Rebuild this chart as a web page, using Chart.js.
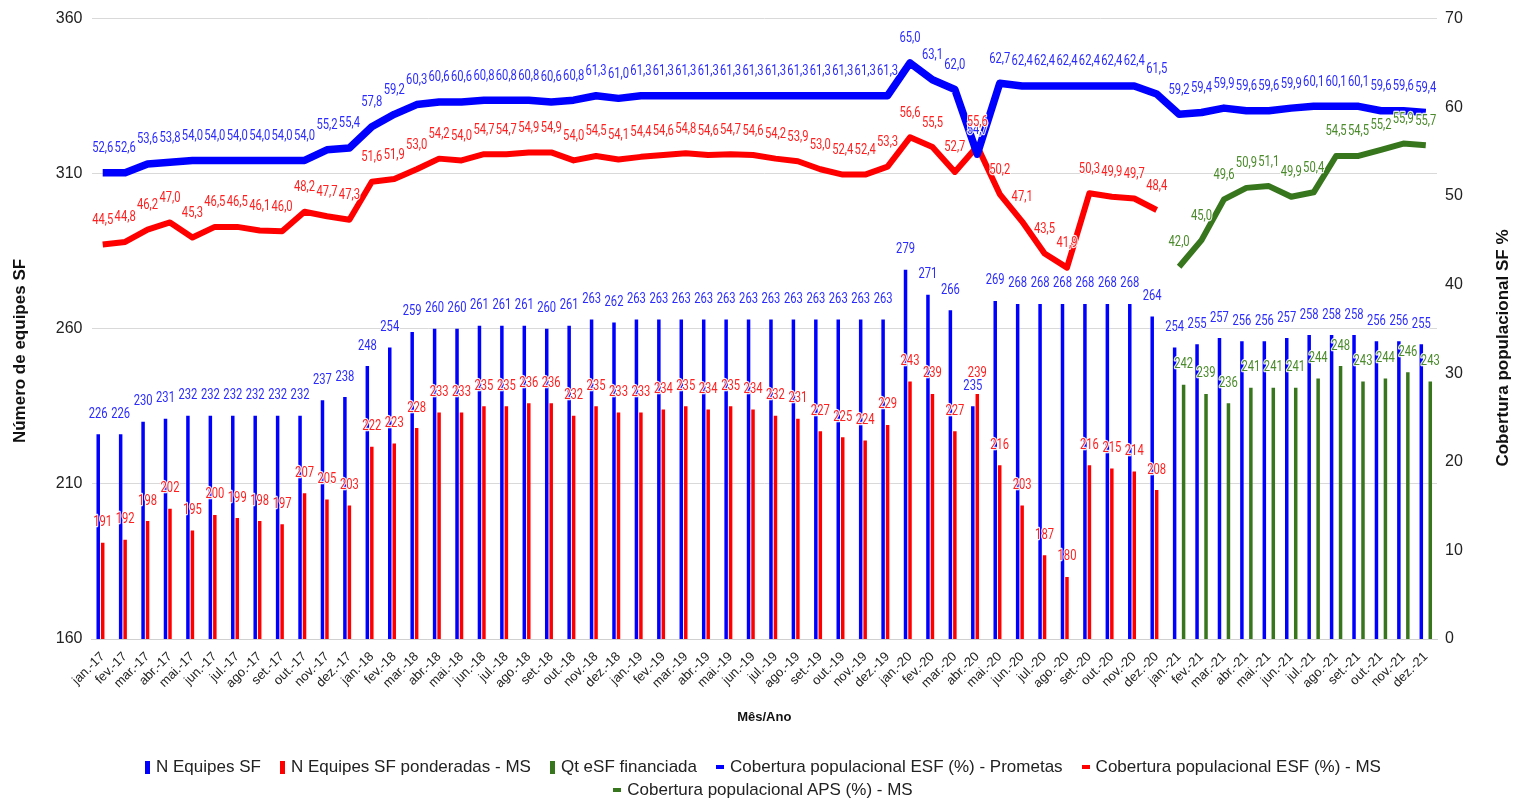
<!DOCTYPE html>
<html lang="pt-BR">
<head>
    <meta charset="UTF-8">
    <title>Equipes SF e cobertura populacional</title>
    <style>
        body {
            margin: 0;
            background: #ffffff;
        }

        .wrap {
            position: relative;
            width: 1517px;
            height: 801px;
        }

        #legend {
            position: absolute;
            top: 757px;
            left: 78px;
            width: 1370px;
            display: flex;
            flex-wrap: wrap;
            justify-content: center;
            column-gap: 19px;
            row-gap: 3px;
            font-family: 'Liberation Sans', Arial, sans-serif;
            font-size: 17px;
            line-height: 20px;
            color: #222;
        }

        .item {
            display: flex;
            align-items: center;
            white-space: nowrap;
        }

        .mark {
            display: inline-block;
            margin-right: 6px;
        }
    </style>
    <script src="https://cdn.jsdelivr.net/npm/chart.js"></script>
</head>

<body>
    <div class="wrap">
        <canvas id="chart" width="1517" height="801"></canvas>
        <div id="legend"></div>
    </div>
    <script>
        const meses = [
            'jan.-17', 'fev.-17', 'mar.-17', 'abr.-17', 'mai.-17', 'jun.-17', 'jul.-17', 'ago.-17', 'set.-17', 'out.-17', 'nov.-17', 'dez.-17',
            'jan.-18', 'fev.-18', 'mar.-18', 'abr.-18', 'mai.-18', 'jun.-18', 'jul.-18', 'ago.-18', 'set.-18', 'out.-18', 'nov.-18', 'dez.-18',
            'jan.-19', 'fev.-19', 'mar.-19', 'abr.-19', 'mai.-19', 'jun.-19', 'jul.-19', 'ago.-19', 'set.-19', 'out.-19', 'nov.-19', 'dez.-19',
            'jan.-20', 'fev.-20', 'mar.-20', 'abr.-20', 'mai.-20', 'jun.-20', 'jul.-20', 'ago.-20', 'set.-20', 'out.-20', 'nov.-20', 'dez.-20',
            'jan.-21', 'fev.-21', 'mar.-21', 'abr.-21', 'mai.-21', 'jun.-21', 'jul.-21', 'ago.-21', 'set.-21', 'out.-21', 'nov.-21', 'dez.-21'
        ];

        // N Equipes SF
        const equipesSF = [
            226, 226, 230, 231, 232, 232, 232, 232, 232, 232, 237, 238,
            248, 254, 259, 260, 260, 261, 261, 261, 260, 261, 263, 262,
            263, 263, 263, 263, 263, 263, 263, 263, 263, 263, 263, 263,
            279, 271, 266, 235, 269, 268, 268, 268, 268, 268, 268, 264,
            254, 255, 257, 256, 256, 257, 258, 258, 258, 256, 256, 255
        ];

        // N Equipes SF ponderadas - MS (até dez.-20)
        const equipesPonderadas = [
            191, 192, 198, 202, 195, 200, 199, 198, 197, 207, 205, 203,
            222, 223, 228, 233, 233, 235, 235, 236, 236, 232, 235, 233,
            233, 234, 235, 234, 235, 234, 232, 231, 227, 225, 224, 229,
            243, 239, 227, 239, 216, 203, 187, 180, 216, 215, 214, 208,
            null, null, null, null, null, null, null, null, null, null, null, null
        ];

        // Qt eSF financiada (2021)
        const esfFinanciada = [
            null, null, null, null, null, null, null, null, null, null, null, null,
            null, null, null, null, null, null, null, null, null, null, null, null,
            null, null, null, null, null, null, null, null, null, null, null, null,
            null, null, null, null, null, null, null, null, null, null, null, null,
            242, 239, 236, 241, 241, 241, 244, 248, 243, 244, 246, 243
        ];

        // Cobertura populacional ESF (%) - Prometas
        const coberturaPrometas = [
            52.6, 52.6, 53.6, 53.8, 54.0, 54.0, 54.0, 54.0, 54.0, 54.0, 55.2, 55.4,
            57.8, 59.2, 60.3, 60.6, 60.6, 60.8, 60.8, 60.8, 60.6, 60.8, 61.3, 61.0,
            61.3, 61.3, 61.3, 61.3, 61.3, 61.3, 61.3, 61.3, 61.3, 61.3, 61.3, 61.3,
            65.0, 63.1, 62.0, 54.7, 62.7, 62.4, 62.4, 62.4, 62.4, 62.4, 62.4, 61.5,
            59.2, 59.4, 59.9, 59.6, 59.6, 59.9, 60.1, 60.1, 60.1, 59.6, 59.6, 59.4
        ];

        // Cobertura populacional ESF (%) - MS
        const coberturaMS = [
            44.5, 44.8, 46.2, 47.0, 45.3, 46.5, 46.5, 46.1, 46.0, 48.2, 47.7, 47.3,
            51.6, 51.9, 53.0, 54.2, 54.0, 54.7, 54.7, 54.9, 54.9, 54.0, 54.5, 54.1,
            54.4, 54.6, 54.8, 54.6, 54.7, 54.6, 54.2, 53.9, 53.0, 52.4, 52.4, 53.3,
            56.6, 55.5, 52.7, 55.6, 50.2, 47.1, 43.5, 41.9, 50.3, 49.9, 49.7, 48.4,
            null, null, null, null, null, null, null, null, null, null, null, null
        ];

        // Cobertura populacional APS (%) - MS
        const coberturaAPS = [
            null, null, null, null, null, null, null, null, null, null, null, null,
            null, null, null, null, null, null, null, null, null, null, null, null,
            null, null, null, null, null, null, null, null, null, null, null, null,
            null, null, null, null, null, null, null, null, null, null, null, null,
            42.0, 45.0, 49.6, 50.9, 51.1, 49.9, 50.4, 54.5, 54.5, 55.2, 55.9, 55.7
        ];

        const AZUL = '#0000ff';
        const VERMELHO = '#ff0000';
        const VERDE = '#38761d';

        // rótulos de valor acima das barras e dos pontos
        const rotulos = {
            id: 'rotulos',
            afterDatasetsDraw(chart) {
                const ctx = chart.ctx;
                ctx.save();
                ctx.font = '14px Roboto';
                ctx.textAlign = 'center';
                ctx.textBaseline = 'middle';
                ctx.lineJoin = 'round';
                chart.data.datasets.forEach((ds, i) => {
                    const meta = chart.getDatasetMeta(i);
                    meta.data.forEach((el, j) => {
                        const v = ds.data[j];
                        if (v == null) return;
                        const txt = ds.type === 'line' ? v.toFixed(1).replace('.', ',') : String(v);
                        const dy = ds.type === 'line' ? 24 : 20;
                        ctx.save();
                        ctx.translate(el.x, el.y - dy);
                        ctx.scale(0.8, 1);
                        ctx.strokeStyle = 'rgba(255,255,255,0.9)';
                        ctx.lineWidth = 2.5;
                        ctx.strokeText(txt, 0, 0);
                        ctx.fillStyle = ds.labelColor;
                        ctx.fillText(txt, 0, 0);
                        ctx.restore();
                    });
                });
                ctx.restore();
            },
            afterDraw(chart) {
                const ctx = chart.ctx;
                ctx.save();
                ctx.fillStyle = '#111';
                ctx.textAlign = 'center';
                ctx.textBaseline = 'middle';
                ctx.font = 'bold 17px "Liberation Sans", Arial';
                ctx.save();
                ctx.translate(20, 351);
                ctx.rotate(-Math.PI / 2);
                ctx.fillText('Número de equipes SF', 0, 0);
                ctx.restore();
                ctx.save();
                ctx.translate(1503, 348);
                ctx.rotate(-Math.PI / 2);
                ctx.fillText('Cobertura populacional SF %', 0, 0);
                ctx.restore();
                ctx.font = 'bold 13px "Liberation Sans", Arial';
                ctx.fillText('Mês/Ano', (chart.chartArea.left + chart.chartArea.right) / 2, 717);
                ctx.restore();
            }
        };

        const barra = (label, data, cor) => ({
            type: 'bar',
            label: label,
            data: data,
            backgroundColor: cor,
            labelColor: cor === AZUL ? '#2b2bff' : cor === VERMELHO ? '#ff1f1f' : '#4a8a2a',
            yAxisID: 'y',
            order: 2,
            categoryPercentage: 0.6,
            barPercentage: 0.78
        });

        const linha = (label, data, cor, largura) => ({
            type: 'line',
            label: label,
            data: data,
            borderColor: cor,
            backgroundColor: cor,
            labelColor: cor === AZUL ? '#2b2bff' : cor === VERMELHO ? '#ff1f1f' : '#4a8a2a',
            borderWidth: largura,
            borderJoinStyle: 'round',
            pointRadius: 0,
            tension: 0,
            yAxisID: 'y1',
            order: 1
        });

        const ctx = document.getElementById('chart').getContext('2d');
        const chart = new Chart(ctx, {
            data: {
                labels: meses,
                datasets: [
                    barra('N Equipes SF', equipesSF, AZUL),
                    barra('N Equipes SF ponderadas - MS', equipesPonderadas, VERMELHO),
                    barra('Qt eSF financiada', esfFinanciada, VERDE),
                    linha('Cobertura populacional ESF (%) - Prometas', coberturaPrometas, AZUL, 7.5),
                    linha('Cobertura populacional ESF (%) - MS', coberturaMS, VERMELHO, 6),
                    linha('Cobertura populacional APS (%) - MS', coberturaAPS, VERDE, 6)
                ]
            },
            options: {
                responsive: false,
                animation: false,
                layout: {
                    padding: { top: 17, left: 0, right: 0, bottom: 75 }
                },
                plugins: {
                    legend: { display: false },
                    tooltip: { enabled: false }
                },
                scales: {
                    x: {
                        grid: { display: false },
                        border: { color: '#d0d0d0' },
                        ticks: {
                            autoSkip: false,
                            maxRotation: 45,
                            minRotation: 45,
                            padding: 2,
                            color: '#222',
                            font: { family: '"Liberation Sans", Arial', size: 13 }
                        },
                        afterFit(s) { s.height = 87; }
                    },
                    y: {
                        position: 'left',
                        min: 160,
                        max: 360,
                        ticks: {
                            stepSize: 50,
                            padding: 9,
                            color: '#222',
                            font: { family: '"Liberation Sans", Arial', size: 16 }
                        },
                        grid: { color: '#d9d9d9', drawTicks: false },
                        border: { display: false },
                        afterFit(s) { s.width = 91.5; }
                    },
                    y1: {
                        position: 'right',
                        min: 0,
                        max: 70,
                        ticks: {
                            stepSize: 10,
                            padding: 8,
                            color: '#222',
                            font: { family: '"Liberation Sans", Arial', size: 16 }
                        },
                        grid: { drawOnChartArea: false, drawTicks: false },
                        border: { display: false },
                        afterFit(s) { s.width = 80; }
                    }
                }
            },
            plugins: [rotulos]
        });

        // legenda em HTML, duas linhas como no original
        const legend = document.getElementById('legend');
        chart.data.datasets.forEach(ds => {
            const item = document.createElement('span');
            item.className = 'item';
            const mark = document.createElement('span');
            mark.className = 'mark';
            mark.style.background = ds.backgroundColor;
            if (ds.type === 'line') {
                mark.style.width = '8px';
                mark.style.height = '4px';
            } else {
                mark.style.width = '5px';
                mark.style.height = '13px';
            }
            item.appendChild(mark);
            item.appendChild(document.createTextNode(ds.label));
            legend.appendChild(item);
        });
    </script>
</body>

</html>
